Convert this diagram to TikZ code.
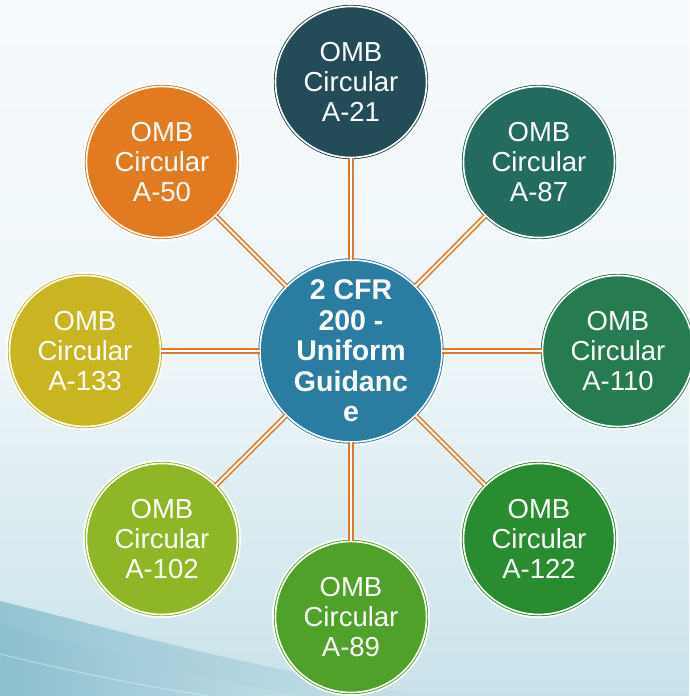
\documentclass[tikz,border=0pt]{standalone}
\usepackage{fontspec}
\setmainfont{Liberation Sans}
\definecolor{cA21}{HTML}{244B58}
\definecolor{cA87}{HTML}{236A5F}
\definecolor{cA110}{HTML}{277B50}
\definecolor{cA122}{HTML}{2A8C30}
\definecolor{cA89}{HTML}{4FA12A}
\definecolor{cA102}{HTML}{8FB626}
\definecolor{cA133}{HTML}{C9B422}
\definecolor{cA50}{HTML}{E27A22}
\definecolor{cCenter}{HTML}{2B7CA1}
\definecolor{link}{HTML}{E07A2A}
\definecolor{bgtop}{HTML}{F6FAFC}
\definecolor{bgmid}{HTML}{EEF6F9}
\definecolor{bgbot}{HTML}{C9E2EA}
\definecolor{wave}{HTML}{86BCCD}
\tikzset{
  bubble/.style={circle, inner sep=0pt, minimum size=151pt, fill=#1,
    draw=#1, double=white, double distance=1.6pt, line width=0.9pt,
    preaction={draw=white, line width=7pt},
    text=white, align=center,
    font={\fontsize{27.5}{30}\selectfont}},
  hub/.style={bubble=cCenter, minimum size=174pt,
    font={\bfseries\fontsize{28.5}{30.5}\selectfont}},
  connector/.style={draw=link, double=white, line width=1.6pt, double distance=2pt}
}
\begin{document}
\begin{tikzpicture}[x=1pt,y=1pt]
\useasboundingbox (0,0) rectangle (689,696);
% background
\shade[top color=bgtop, bottom color=bgbot, middle color=bgmid] (0,0) rectangle (689,696);
\shade[left color=wave, right color=bgbot, opacity=0.8] (0,95) .. controls (120,65) and (260,25) .. (430,0) -- (0,0) -- cycle;
\shade[left color=wave, right color=bgbot, opacity=0.5] (0,72) .. controls (90,47) and (200,18) .. (300,0) -- (0,0) -- cycle;
\draw[white, opacity=0.35, line width=1.2pt] (0,42) .. controls (70,25) and (140,10) .. (210,0);
% nodes
\node[hub] (c) at (351,345) {2 CFR\\200 -\\Uniform\\Guidanc\\e};
\node[bubble=cA21] (a21) at (351,614) {OMB\\Circular\\A-21};
\node[bubble=cA87] (a87) at (539,534) {OMB\\Circular\\A-87};
\node[bubble=cA110] (a110) at (618,345) {OMB\\Circular\\A-110};
\node[bubble=cA122] (a122) at (539,157) {OMB\\Circular\\A-122};
\node[bubble=cA89] (a89) at (351,79) {OMB\\Circular\\A-89};
\node[bubble=cA102] (a102) at (162,157) {OMB\\Circular\\A-102};
\node[bubble=cA133] (a133) at (85,345) {OMB\\Circular\\A-133};
\node[bubble=cA50] (a50) at (162,534) {OMB\\Circular\\A-50};
% connectors
\foreach \n in {a21,a87,a110,a122,a89,a102,a133,a50}
  \draw[connector] (c) -- (\n);
\end{tikzpicture}
\end{document}
